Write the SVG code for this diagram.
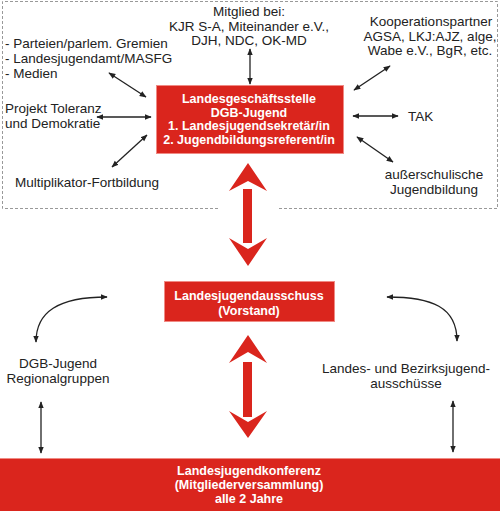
<svg xmlns="http://www.w3.org/2000/svg" width="500" height="511" viewBox="0 0 500 511">
<style>
.t{font-family:"Liberation Sans",Arial,sans-serif;font-size:13.5px;fill:#222}
.w{font-family:"Liberation Sans",Arial,sans-serif;font-size:12.5px;font-weight:bold;fill:#fff}
.box{fill:#da251d;stroke:#f08a84;stroke-width:1}
.c{fill:none;stroke:#222;stroke-width:1.3;marker-start:url(#a);marker-end:url(#a)}
.big{fill:#da251d}
</style>
<defs>
<marker id="a" viewBox="0 0 10 10" refX="9" refY="5" markerWidth="7" markerHeight="7" markerUnits="userSpaceOnUse" orient="auto-start-reverse">
<path d="M0,1 L10,5 L0,9 z" fill="#222"/>
</marker>
</defs>
<rect width="500" height="511" fill="#fff"/>
<g id="frame">
<path d="M218,208.5 H2.5 V1.5 H497.5 V208.5 H278" fill="none" stroke="#999" stroke-width="1" stroke-dasharray="3,2"/>
</g>
<g id="connectors">
<line class="c" x1="250" y1="49" x2="250" y2="84"/>
<line class="c" x1="109" y1="73" x2="146" y2="97"/>
<line class="c" x1="97" y1="117" x2="151" y2="117"/>
<line class="c" x1="147" y1="135" x2="112" y2="167"/>
<line class="c" x1="390" y1="66" x2="354" y2="90"/>
<line class="c" x1="353" y1="116" x2="398" y2="116"/>
<line class="c" x1="357" y1="137" x2="393" y2="162"/>
<path class="c" d="M36,342 C36,312 58,297 107,297"/>
<path class="c" d="M387,297 C432,297 457,307 457,341"/>
<line class="c" x1="41" y1="402" x2="41" y2="453"/>
<line class="c" x1="453" y1="401" x2="453" y2="452"/>
<g id="bigarrow1" class="big">
<path d="M248,163 L267,191 L248,181 L229,191 z"/>
<rect x="243" y="189" width="9" height="54"/>
<path d="M248,266 L267,238 L248,249 L229,238 z"/>
</g>
<g id="bigarrow2" class="big">
<path d="M248,335 L267,363 L248,352 L229,363 z"/>
<rect x="243" y="362" width="9" height="55"/>
<path d="M248,438 L267,411 L248,422 L229,411 z"/>
</g>
</g>
<g id="geschaeftsstelle">
<rect class="box" x="156.5" y="85.5" width="187" height="68"/>
<text class="w" text-anchor="middle" x="249" y="103">Landesgeschäftsstelle</text>
<text class="w" text-anchor="middle" x="249" y="116.5">DGB-Jugend</text>
<text class="w" text-anchor="middle" x="249" y="130">1. Landesjugendsekretär/in</text>
<text class="w" text-anchor="middle" x="249" y="143.5">2. Jugendbildungsreferent/in</text>
</g>
<g id="mitglied">
<text class="t" text-anchor="middle" x="249" y="16">Mitglied bei:</text>
<text class="t" text-anchor="middle" x="249" y="30.5">KJR S-A, Miteinander e.V.,</text>
<text class="t" text-anchor="middle" x="249" y="45">DJH, NDC, OK-MD</text>
</g>
<g id="parteien">
<text class="t" x="5" y="48">- Parteien/parlem. Gremien</text>
<text class="t" x="5" y="63">- Landesjugendamt/MASFG</text>
<text class="t" x="5" y="78">- Medien</text>
</g>
<g id="projekt">
<text class="t" x="5" y="113">Projekt Toleranz</text>
<text class="t" x="5" y="128">und Demokratie</text>
</g>
<g id="multiplikator">
<text class="t" x="15" y="187">Multiplikator-Fortbildung</text>
</g>
<g id="kooperation">
<text class="t" text-anchor="middle" x="431" y="26">Kooperationspartner</text>
<text class="t" text-anchor="middle" x="430" y="40.5">AGSA, LKJ:AJZ, alge,</text>
<text class="t" text-anchor="middle" x="430" y="55">Wabe e.V., BgR, etc.</text>
</g>
<g id="tak">
<text class="t" x="408" y="121">TAK</text>
</g>
<g id="ausserschulisch">
<text class="t" text-anchor="middle" x="434" y="179">außerschulische</text>
<text class="t" text-anchor="middle" x="434" y="193.5">Jugendbildung</text>
</g>
<g id="ljausschuss">
<rect class="box" x="164.5" y="281.5" width="170" height="40"/>
<text class="w" text-anchor="middle" x="249" y="300">Landesjugendausschuss</text>
<text class="w" text-anchor="middle" x="249" y="315">(Vorstand)</text>
</g>
<g id="regionalgruppen">
<text class="t" text-anchor="middle" x="58" y="368">DGB-Jugend</text>
<text class="t" text-anchor="middle" x="58" y="383">Regionalgruppen</text>
</g>
<g id="bezirk">
<text class="t" text-anchor="middle" x="406" y="373">Landes- und Bezirksjugend-</text>
<text class="t" text-anchor="middle" x="406" y="387.5">ausschüsse</text>
</g>
<g id="konferenz">
<rect class="box" x="-1" y="458.5" width="502" height="54"/>
<text class="w" text-anchor="middle" x="249" y="475">Landesjugendkonferenz</text>
<text class="w" text-anchor="middle" x="249" y="489">(Mitgliederversammlung)</text>
<text class="w" text-anchor="middle" x="249" y="503">alle 2 Jahre</text>
</g>
</svg>
